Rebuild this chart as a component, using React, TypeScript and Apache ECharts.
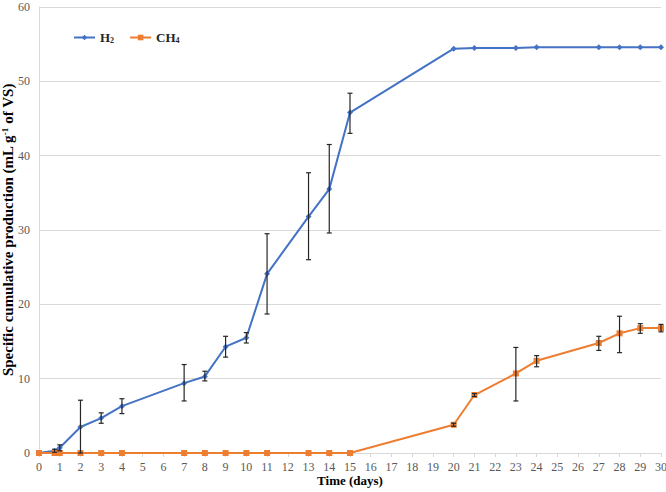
import React, { useEffect, useRef } from "react";
import * as echarts from "echarts";

const h2Days = [0, 0.75, 1, 2, 3, 4, 7, 8, 9, 10, 11, 13, 14, 15, 20, 21, 23, 24, 27, 28, 29, 30];
const h2Values = [0, 0.3, 0.7, 3.5, 4.7, 6.3, 9.4, 10.3, 14.3, 15.5, 24.1, 31.8, 35.5, 45.8, 54.4, 54.5, 54.5, 54.6, 54.6, 54.6, 54.6, 54.6];
// [day, low, high]
const h2Err = [
  [0.75, 0.1, 0.5],
  [1, 0.3, 1.1],
  [2, 0, 7.1],
  [3, 4.0, 5.4],
  [4, 5.3, 7.3],
  [7, 7.0, 11.9],
  [8, 9.7, 11.0],
  [9, 12.9, 15.7],
  [10, 14.8, 16.2],
  [11, 18.7, 29.5],
  [13, 26.0, 37.7],
  [14, 29.6, 41.5],
  [15, 43.0, 48.4],
];

const ch4Days = [0, 0.75, 1, 2, 3, 4, 7, 8, 9, 10, 11, 13, 14, 15, 20, 21, 23, 24, 27, 28, 29, 30];
const ch4Values = [0, 0, 0, 0, 0, 0, 0, 0, 0, 0, 0, 0, 0, 0, 3.8, 7.8, 10.7, 12.4, 14.8, 16.1, 16.8, 16.8];
const ch4Err = [
  [20, 3.6, 4.0],
  [21, 7.6, 8.0],
  [23, 7.0, 14.2],
  [24, 11.6, 13.1],
  [27, 13.8, 15.7],
  [28, 13.5, 18.4],
  [29, 16.1, 17.4],
  [30, 16.3, 17.3],
];

const xTicks = { min: 0, max: 30, interval: 1 };
const yTicks = { min: 0, max: 60, interval: 10 };

const FONT = "'Liberation Serif', 'Times New Roman', serif";

function errorSeries(data: number[][]) {
  return {
    type: "custom",
    data,
    encode: { x: 0, y: [1, 2] },
    z: 5,
    silent: true,
    renderItem: (params: any, api: any) => {
      const x = api.value(0);
      const lo = api.value(1);
      const hi = api.value(2);
      const pHi = api.coord([x, hi]);
      const pLo = api.coord([x, lo]);
      const w = 2.5;
      const style = { stroke: "#262626", lineWidth: 1.2 };
      return {
        type: "group",
        children: [
          { type: "line", shape: { x1: pHi[0], y1: pHi[1], x2: pLo[0], y2: pLo[1] }, style },
          { type: "line", shape: { x1: pHi[0] - w, y1: pHi[1], x2: pHi[0] + w, y2: pHi[1] }, style },
          { type: "line", shape: { x1: pLo[0] - w, y1: pLo[1], x2: pLo[0] + w, y2: pLo[1] }, style },
        ],
      };
    },
  };
}

export default function App() {
  const ref = useRef<HTMLDivElement>(null);
  useEffect(() => {
    if (!ref.current) return;
    const chart = echarts.init(ref.current, null, { renderer: "svg" });
    chart.setOption({
      animation: false,
      backgroundColor: "#ffffff",
      grid: { left: 39, right: 5, top: 7, bottom: 39, containLabel: false, outerBoundsMode: "none" },
      legend: {
        left: 68,
        top: 26,
        itemWidth: 21,
        itemHeight: 7,
        itemGap: 15,
        data: ["H2", "CH4"],
        formatter: (name: string) => (name === "H2" ? "H{sub|2}" : "CH{sub|4}"),
        textStyle: {
          fontFamily: FONT,
          fontWeight: "bold",
          fontSize: 13,
          color: "#262626",
          rich: {
            sub: { fontFamily: FONT, fontWeight: "bold", fontSize: 8, verticalAlign: "bottom", padding: [6, 0, 0, 0], color: "#262626" },
          },
        },
      },
      xAxis: {
        type: "value",
        ...xTicks,
        name: "Time (days)",
        nameLocation: "middle",
        nameGap: 21,
        nameMoveOverlap: false,
        nameTextStyle: { fontFamily: FONT, fontWeight: "bold", fontSize: 13, color: "#000" },
        axisLine: { show: true, lineStyle: { color: "#d9d9d9" } },
        axisTick: { show: true, length: 4, lineStyle: { color: "#d9d9d9" } },
        axisLabel: { fontFamily: FONT, fontSize: 12, color: "#595959", margin: 8 },
        splitLine: { show: false },
      },
      yAxis: {
        type: "value",
        ...yTicks,
        name: "Specific cumulative production (mL g{sup|-1} of VS)",
        nameLocation: "middle",
        nameGap: 24,
        nameMoveOverlap: false,
        nameTextStyle: {
          fontFamily: FONT,
          fontWeight: "bold",
          fontSize: 15,
          color: "#000",
          rich: {
            sup: { fontFamily: FONT, fontWeight: "bold", fontSize: 9, verticalAlign: "top", padding: [0, 0, 5, 0], color: "#000" },
          },
        },
        axisLine: { show: true, lineStyle: { color: "#d9d9d9" } },
        axisTick: { show: false },
        axisLabel: { fontFamily: FONT, fontSize: 12, color: "#595959", margin: 9 },
        splitLine: { show: true, lineStyle: { color: "#d9d9d9" } },
      },
      series: [
        {
          name: "H2",
          type: "line",
          data: h2Days.map((d, i) => [d, h2Values[i]]),
          symbol: "diamond",
          symbolSize: 6,
          color: "#4472C4",
          lineStyle: { width: 2, color: "#4472C4" },
          itemStyle: { color: "#4472C4" },
          z: 3,
        },
        {
          name: "CH4",
          type: "line",
          data: ch4Days.map((d, i) => [d, ch4Values[i]]),
          symbol: "rect",
          symbolSize: 6,
          color: "#ED7D31",
          lineStyle: { width: 2, color: "#ED7D31" },
          itemStyle: { color: "#ED7D31" },
          z: 3,
        },
        errorSeries(h2Err),
        errorSeries(ch4Err),
      ],
    });
    return () => chart.dispose();
  }, []);
  return <div ref={ref} style={{ width: 666, height: 492, position: "absolute", left: 0, top: 0 }} />;
}
